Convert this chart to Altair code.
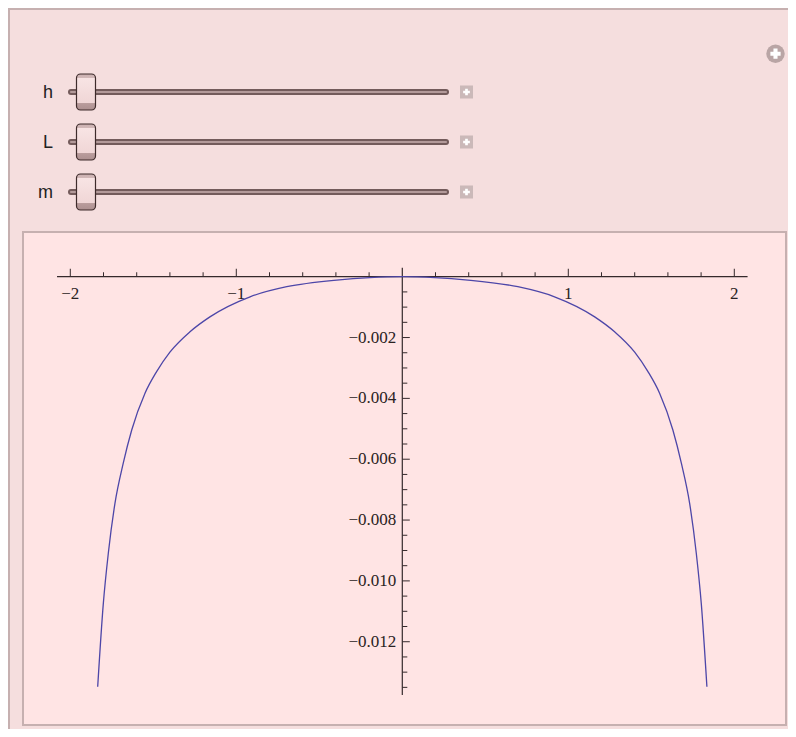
import altair as alt
import pandas as pd

# ---------------- data ----------------
curve_x = [-1.835, -1.801, -1.771, -1.731, -1.681, -1.630, -1.550, -1.480, -1.400, -1.279,
           -1.159, -0.917, -0.696, -0.395, -0.195, 0.0,
           0.195, 0.395, 0.696, 0.917, 1.159, 1.279, 1.400, 1.480, 1.550, 1.630,
           1.681, 1.731, 1.771, 1.801, 1.835]
curve_y = [-0.01348, -0.01074, -0.00909, -0.00745, -0.00613, -0.00504, -0.00383, -0.00312, -0.00248, -0.00181,
           -0.00132, -0.00066, -0.00033, -0.00011, -0.00003, 0.0,
           -0.00003, -0.00011, -0.00033, -0.00066, -0.00132, -0.00181, -0.00248, -0.00312, -0.00383, -0.00504,
           -0.00613, -0.00745, -0.00909, -0.01074, -0.01348]

x_major = [-2, -1, 1, 2]
x_major_labels = ["\u22122", "\u22121", "1", "2"]
x_minor = [-1.8, -1.6, -1.4, -1.2, -0.8, -0.6, -0.4, -0.2,
           0.2, 0.4, 0.6, 0.8, 1.2, 1.4, 1.6, 1.8]
y_major = [-0.002, -0.004, -0.006, -0.008, -0.010, -0.012]
y_major_labels = ["\u22120.002", "\u22120.004", "\u22120.006",
                  "\u22120.008", "\u22120.010", "\u22120.012"]
y_minor = [-0.0005, -0.001, -0.0015, -0.0025, -0.003, -0.0035, -0.0045, -0.005,
           -0.0055, -0.0065, -0.007, -0.0075, -0.0085, -0.009, -0.0095, -0.0105,
           -0.011, -0.0115, -0.0125, -0.013, -0.0135]
x_axis_extent = [-2.08, 2.08]
y_axis_extent = [0.00029, -0.01375]

slider_names = ["h", "L", "m"]
slider_values = [0.04, 0.04, 0.04]

# ---------------- styles ----------------
W, H = 780, 721
PANEL = "#F5DEDE"
FRAME_FILL = "#FFE4E4"
FRAME_STROKE = "#C6B0B0"
AXIS = "#35292b"
CURVE = "#4d46a8"
SERIF = "Liberation Serif"
SANS = "Liberation Sans"

XS = alt.Scale(domain=[-2.3753, 2.3235], nice=False, zero=False)
YS = alt.Scale(domain=[-0.014869, 0.008833], nice=False, zero=False)

one = pd.DataFrame({"k": [0]})

# ---------------- decoration ----------------
border_left = alt.Chart(one).mark_rule(color=FRAME_STROKE, strokeWidth=2).encode(
    x=alt.value(1), y=alt.value(0), y2=alt.value(H))
border_top = alt.Chart(one).mark_rule(color=FRAME_STROKE, strokeWidth=2).encode(
    x=alt.value(0), x2=alt.value(W), y=alt.value(1))

frame = alt.Chart(one).mark_rect(fill=FRAME_FILL, stroke=FRAME_STROKE, strokeWidth=2).encode(
    x=alt.value(15), x2=alt.value(778), y=alt.value(224), y2=alt.value(717))

big_circle = alt.Chart(one).mark_circle(size=340, color="#B9A5A5", opacity=1).encode(
    x=alt.value(767.5), y=alt.value(45.7))
big_cross = alt.Chart(one).mark_point(shape="cross", filled=True, color="white",
                                      size=105, opacity=1, strokeWidth=0).encode(
    x=alt.value(767.5), y=alt.value(45.7))

# ---------------- plot ----------------
curve_df = pd.DataFrame({"x": curve_x, "y": curve_y})
line = alt.Chart(curve_df).mark_line(color=CURVE, strokeWidth=1.3, interpolate="monotone").encode(
    x=alt.X("x:Q", scale=XS, axis=None),
    y=alt.Y("y:Q", scale=YS, axis=None),
    order="x:Q")

xaxis_df = pd.DataFrame({"x": [x_axis_extent[0]], "x2": [x_axis_extent[1]], "y": [0.0]})
xaxis = alt.Chart(xaxis_df).mark_rule(color=AXIS, strokeWidth=1.2).encode(
    x=alt.X("x:Q", scale=XS, axis=None), x2="x2:Q",
    y=alt.Y("y:Q", scale=YS, axis=None))

yaxis_df = pd.DataFrame({"x": [0.0], "y": [y_axis_extent[0]], "y2": [y_axis_extent[1]]})
yaxis = alt.Chart(yaxis_df).mark_rule(color=AXIS, strokeWidth=1.2).encode(
    x=alt.X("x:Q", scale=XS, axis=None),
    y=alt.Y("y:Q", scale=YS, axis=None), y2="y2:Q")

xmaj_df = pd.DataFrame({"v": x_major, "z": [0.0] * len(x_major), "t": x_major_labels})
xmin_df = pd.DataFrame({"v": x_minor, "z": [0.0] * len(x_minor)})
ymaj_df = pd.DataFrame({"v": y_major, "z": [0.0] * len(y_major), "t": y_major_labels})
ymin_df = pd.DataFrame({"v": y_minor, "z": [0.0] * len(y_minor)})

xmaj_ticks = alt.Chart(xmaj_df).mark_tick(orient="vertical", size=8, thickness=1,
                                         color=AXIS, yOffset=-4, opacity=1).encode(
    x=alt.X("v:Q", scale=XS, axis=None), y=alt.Y("z:Q", scale=YS, axis=None))
xmin_ticks = alt.Chart(xmin_df).mark_tick(orient="vertical", size=4.5, thickness=1,
                                         color=AXIS, yOffset=-2.25, opacity=1).encode(
    x=alt.X("v:Q", scale=XS, axis=None), y=alt.Y("z:Q", scale=YS, axis=None))
ymaj_ticks = alt.Chart(ymaj_df).mark_tick(orient="horizontal", size=7.5, thickness=1,
                                         color=AXIS, xOffset=3.75, opacity=1).encode(
    x=alt.X("z:Q", scale=XS, axis=None), y=alt.Y("v:Q", scale=YS, axis=None))
ymin_ticks = alt.Chart(ymin_df).mark_tick(orient="horizontal", size=5, thickness=1,
                                         color=AXIS, xOffset=2.5, opacity=1).encode(
    x=alt.X("z:Q", scale=XS, axis=None), y=alt.Y("v:Q", scale=YS, axis=None))

xlabels = alt.Chart(xmaj_df).mark_text(font=SERIF, fontSize=17, color="#2a2222",
                                       baseline="middle", dy=17).encode(
    x=alt.X("v:Q", scale=XS, axis=None), y=alt.Y("z:Q", scale=YS, axis=None), text="t:N")
ylabels = alt.Chart(ymaj_df).mark_text(font=SERIF, fontSize=17, color="#2a2222",
                                       align="right", baseline="middle", dx=-6).encode(
    x=alt.X("z:Q", scale=XS, axis=None), y=alt.Y("v:Q", scale=YS, axis=None), text="t:N")

plot = alt.layer(xaxis, yaxis, xmin_ticks, xmaj_ticks, ymin_ticks, ymaj_ticks,
                 xlabels, ylabels, line)

# ---------------- sliders ----------------
sl_df = pd.DataFrame({"name": slider_names, "row": list(range(len(slider_names))),
                      "value": slider_values,
                      "start": [0.0] * len(slider_names), "end": [1.0] * len(slider_names)})
SX = alt.Scale(domain=[0, 1], range=[63, 438], nice=False, zero=False)
SY = alt.Scale(domain=[0, 2], range=[84, 184], nice=False, zero=False)

track_outer = alt.Chart(sl_df).mark_rule(color="#735b5b", strokeWidth=6, strokeCap="round").encode(
    x=alt.X("start:Q", scale=SX, axis=None), x2="end:Q",
    y=alt.Y("row:Q", scale=SY, axis=None))
track_inner = alt.Chart(sl_df).mark_rule(color="#b39a9a", strokeWidth=2.2, strokeCap="round").encode(
    x=alt.X("start:Q", scale=SX, axis=None), x2="end:Q",
    y=alt.Y("row:Q", scale=SY, axis=None))

thumb_fill = alt.LinearGradient(
    gradient="linear", x1=0, y1=0, x2=0, y2=1,
    stops=[alt.GradientStop(offset=0, color="#c9afaf"),
           alt.GradientStop(offset=0.10, color="#d2b8b8"),
           alt.GradientStop(offset=0.11, color="#f8e4e4"),
           alt.GradientStop(offset=0.80, color="#f0d6d6"),
           alt.GradientStop(offset=0.82, color="#b99c9c"),
           alt.GradientStop(offset=1, color="#ad9090")])
thumb = alt.Chart(sl_df).mark_rect(fill=thumb_fill, stroke="#3e2b2b", strokeWidth=1.2,
                                   cornerRadius=4, xOffset=-9.5, x2Offset=9.5,
                                   yOffset=-18, y2Offset=18).encode(
    x=alt.X("value:Q", scale=SX, axis=None), x2="value:Q",
    y=alt.Y("row:Q", scale=SY, axis=None), y2="row:Q")

names = alt.Chart(sl_df).mark_text(font=SANS, fontSize=18, color="#222222",
                                   align="right", baseline="alphabetic", dy=6).encode(
    x=alt.value(45), y=alt.Y("row:Q", scale=SY, axis=None), text="name:N")

plus_sq = alt.Chart(sl_df).mark_square(size=169, color="#CBB9B9", opacity=1).encode(
    x=alt.value(458.5), y=alt.Y("row:Q", scale=SY, axis=None))
plus_x = alt.Chart(sl_df).mark_point(shape="cross", filled=True, color="white",
                                     size=45, opacity=1, strokeWidth=0).encode(
    x=alt.value(458.5), y=alt.Y("row:Q", scale=SY, axis=None))

sliders = alt.layer(track_outer, track_inner, thumb, names, plus_sq, plus_x)

chart = alt.layer(
    border_left, border_top, frame, big_circle, big_cross, plot, sliders
).resolve_scale(x="independent", y="independent").properties(
    width=W, height=H, padding=0, autosize=alt.AutoSizeParams(type="none"),
    background=PANEL
).configure_view(fill=PANEL, strokeWidth=0)

chart.save("out.html", embed_options={"renderer": "svg", "actions": False})
